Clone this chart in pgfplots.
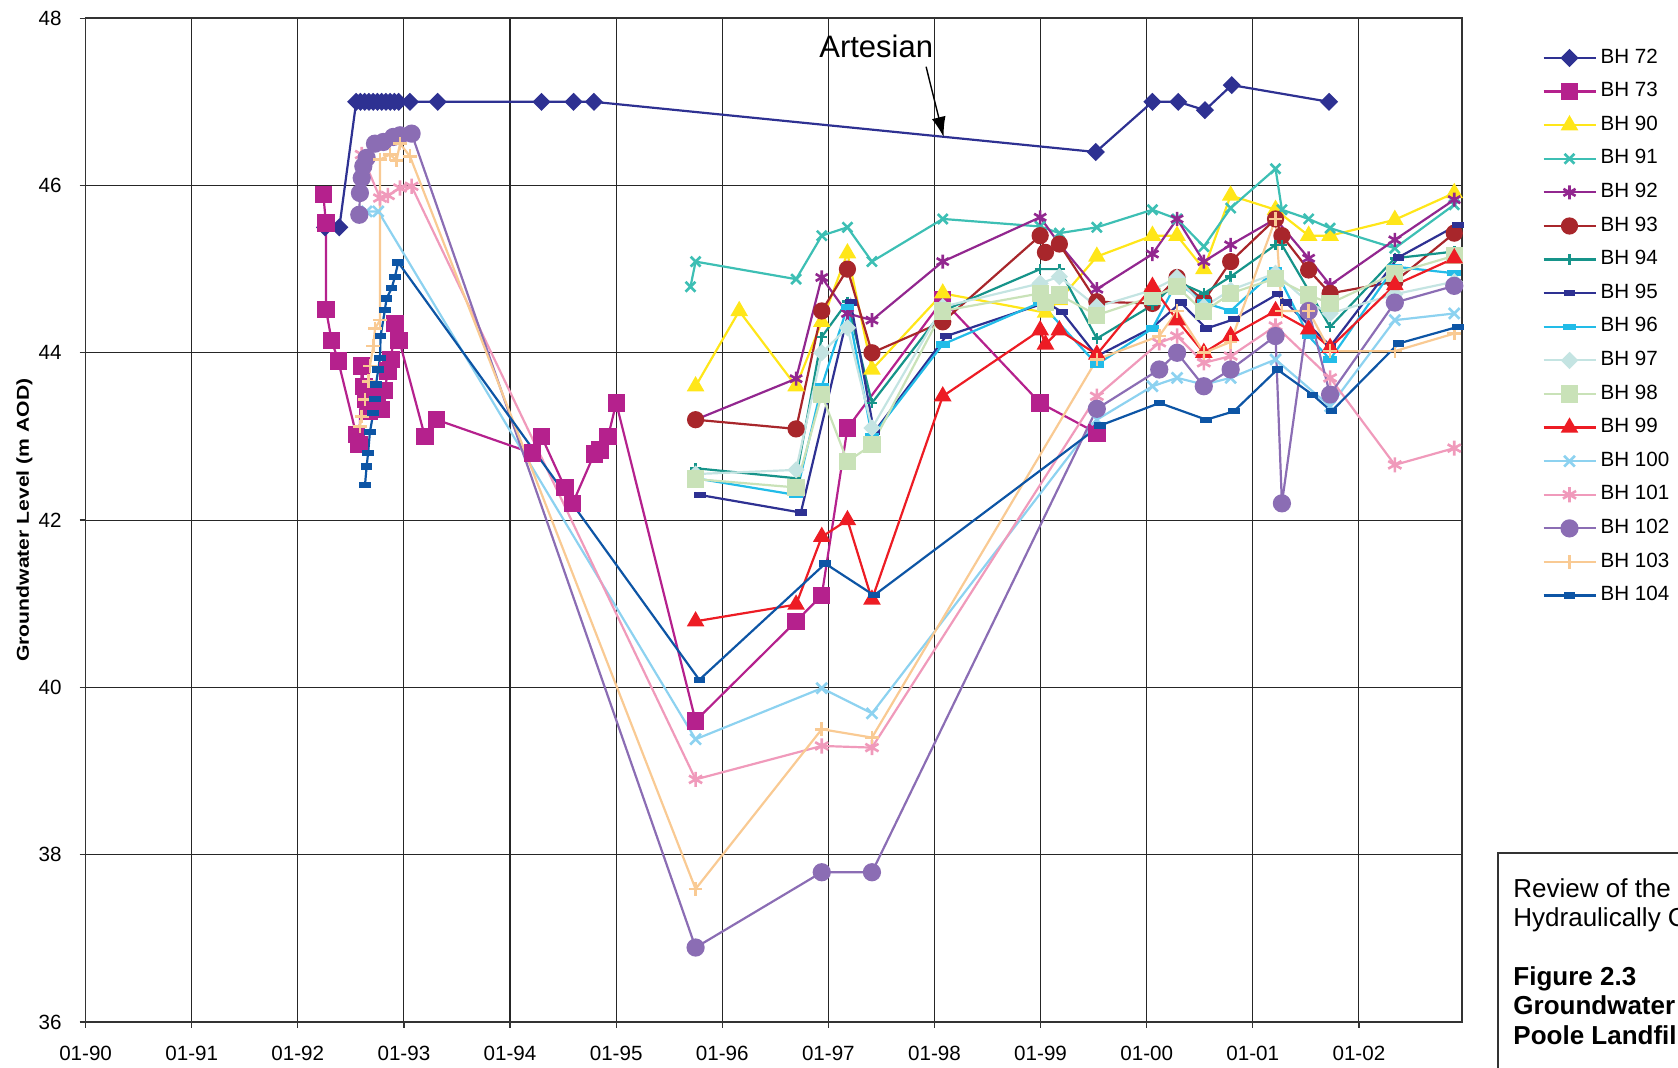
\documentclass[border=0pt]{standalone}
\usepackage{fontspec}
\setmainfont{Liberation Sans}
\usepackage{pgfplots}
\pgfplotsset{compat=1.18}
\usetikzlibrary{arrows.meta}

\definecolor{c72}{HTML}{2E3192}
\definecolor{c73}{HTML}{B5218D}
\definecolor{c90}{HTML}{FFE619}
\definecolor{c91}{HTML}{3DBFB4}
\definecolor{c92}{HTML}{92278F}
\definecolor{c93}{HTML}{A8262B}
\definecolor{c94}{HTML}{16948A}
\definecolor{c95}{HTML}{2E3192}
\definecolor{c96}{HTML}{22BCE8}
\definecolor{c97}{HTML}{C4E4E2}
\definecolor{c98}{HTML}{C9E2B8}
\definecolor{c99}{HTML}{ED1C24}
\definecolor{c100}{HTML}{8DD2F0}
\definecolor{c101}{HTML}{F09ABB}
\definecolor{c102}{HTML}{8B6DB4}
\definecolor{c103}{HTML}{F9CA93}
\definecolor{c104}{HTML}{0D55A5}

\begin{document}
\begin{tikzpicture}
\useasboundingbox (-42.8pt,-23pt) rectangle (796.2pt,511pt);
\begin{axis}[
  at={(0pt,0pt)}, anchor=south west,
  scale only axis, width=688.2pt, height=501.9pt,
  xmin=1990, xmax=2002.97, ymin=36, ymax=48,
  xtick={1990,...,2002},
  xticklabels={01-90,01-91,01-92,01-93,01-94,01-95,01-96,01-97,01-98,01-99,01-00,01-01,01-02},
  ytick={36,38,...,48},
  tick pos=left, tick align=outside, major tick length=3pt,
  tick style={black!80, line width=0.6pt},
  grid=major, major grid style={black!85, line width=0.55pt},
  axis line style={black!80, line width=0.8pt},
  /pgf/number format/assume math mode=true,
  ticklabel style={font=\fontsize{10.3}{12}\selectfont, inner sep=0pt},
  yticklabel style={anchor=east, xshift=-8.8pt},
  xticklabel style={anchor=north, yshift=-8.8pt},
  every axis y label/.style={at={(axis description cs:0,0.5)}, xshift=-30.6pt, rotate=90, anchor=center},
  ylabel={\fontsize{8.6}{10}\selectfont\scalebox{1.23}[1]{\bfseries Groundwater Level (m AOD)}},
  every axis plot/.append style={line width=1.1pt},
  stroke mark/.style={mark options={solid, line width=1.3pt}},
  legend image code/.code={\draw[mark repeat=2,mark phase=2,#1] plot coordinates {(0pt,0pt)(13pt,0pt)(26pt,0pt)};},
  legend cell align=left,
  legend style={at={(axis description cs:1,1)}, anchor=north west, xshift=40pt, yshift=-13.7pt,
    draw=none, fill=none, inner sep=0pt, row sep=4.8pt, column sep=1pt,
    font=\fontsize{10.3}{12}\selectfont,
    nodes={inner sep=1pt, text height=7.6pt, text depth=2.4pt}},
]

% BH 72
\addplot[color=c72, mark=square*, mark size=2.65pt, mark options={rotate=45, solid}] coordinates {
(1992.256,45.5)(1992.391,45.5)(1992.55,47)(1992.59,47)(1992.63,47)(1992.67,47)(1992.71,47)
(1992.75,47)(1992.79,47)(1992.83,47)(1992.87,47)(1992.91,47)(1992.95,47)(1993.056,47)
(1993.318,47)(1994.296,47)(1994.598,47)(1994.79,47)(1999.519,46.4)(2000.053,47)
(2000.296,47)(2000.548,46.9)(2000.80,47.2)(2001.717,47)};
\addlegendentry{BH 72}

% BH 73
\addplot[color=c73, mark=square*, mark size=3.8pt] coordinates {
(1992.240,45.89)(1992.265,45.55)(1992.265,44.52)(1992.318,44.15)(1992.381,43.9)
(1992.551,43.02)(1992.578,42.9)(1992.602,43.84)(1992.622,43.6)(1992.637,43.44)
(1992.672,43.3)(1992.713,43.55)(1992.753,43.48)(1992.788,43.32)(1992.818,43.55)
(1992.849,43.78)(1992.879,43.92)(1992.914,44.35)(1992.955,44.15)(1993.197,43.0)
(1993.307,43.2)(1994.209,42.8)(1994.296,43.0)(1994.516,42.39)(1994.59,42.2)
(1994.793,42.79)(1994.846,42.84)(1994.924,43.0)(1995.0,43.4)(1995.748,39.6)
(1996.695,40.79)(1996.937,41.1)(1997.179,43.1)(1998.077,44.63)(1998.995,43.4)(1999.529,43.04)};
\addlegendentry{BH 73}

% BH 90
\addplot[color=c90, mark=triangle*, mark size=4pt] coordinates {
(1995.748,43.6)(1996.159,44.5)(1996.695,43.6)(1996.937,44.37)(1997.179,45.19)(1997.41,43.8)
(1998.077,44.71)(1999.045,44.48)(1999.176,44.63)(1999.529,45.15)(2000.053,45.4)(2000.285,45.4)
(2000.537,45.0)(2000.79,45.88)(2001.213,45.71)(2001.525,45.4)(2001.727,45.4)(2002.337,45.59)(2002.897,45.91)};
\addlegendentry{BH 90}

% BH 91
\addplot[color=c91, mark=x, mark size=3.5pt, stroke mark] coordinates {
(1995.70,44.79)(1995.748,45.09)(1996.695,44.88)(1996.937,45.4)(1997.179,45.5)(1997.41,45.09)
(1998.077,45.6)(1998.995,45.51)(1999.176,45.43)(1999.529,45.5)(2000.053,45.71)(2000.285,45.6)
(2000.537,45.27)(2000.79,45.73)(2001.213,46.2)(2001.273,45.71)(2001.525,45.6)(2001.727,45.49)
(2002.337,45.25)(2002.897,45.77)};
\addlegendentry{BH 91}

% BH 92
\addplot[color=c92, mark=asterisk, mark size=3.5pt, stroke mark] coordinates {
(1995.748,43.2)(1996.695,43.69)(1996.937,44.9)(1997.179,44.47)(1997.41,44.39)(1998.077,45.09)
(1998.995,45.62)(1999.176,45.3)(1999.529,44.76)(2000.053,45.18)(2000.285,45.6)(2000.537,45.09)
(2000.79,45.29)(2001.213,45.6)(2001.525,45.13)(2001.727,44.81)(2002.337,45.35)(2002.897,45.83)};
\addlegendentry{BH 92}

% BH 93
\addplot[color=c93, mark=*, mark size=3.75pt] coordinates {
(1995.748,43.2)(1996.695,43.09)(1996.937,44.5)(1997.179,45.0)(1997.41,44.0)(1998.077,44.37)
(1998.995,45.4)(1999.045,45.2)(1999.176,45.3)(1999.529,44.61)(2000.053,44.59)(2000.285,44.9)
(2000.537,44.62)(2000.79,45.09)(2001.213,45.6)(2001.273,45.4)(2001.525,44.99)(2001.727,44.71)
(2002.337,44.85)(2002.897,45.43)};
\addlegendentry{BH 93}

% BH 94
\addplot[color=c94, mark=+, mark size=2.6pt, stroke mark] coordinates {
(1995.748,42.62)(1996.695,42.5)(1996.937,44.19)(1997.179,44.61)(1997.41,43.4)(1998.077,44.5)
(1998.995,45.0)(1999.176,45.0)(1999.529,44.17)(2000.053,44.57)(2000.285,44.85)(2000.537,44.71)
(2000.79,44.91)(2001.213,45.29)(2001.273,45.29)(2001.727,44.31)(2002.337,45.13)(2002.897,45.21)};
\addlegendentry{BH 94}

% BH 95
\addplot[color=c95, mark=square*, mark size=1pt, mark options={xscale=2.35}] coordinates {
(1995.79,42.3)(1996.74,42.09)(1997.21,44.6)(1997.43,43.05)(1998.11,44.2)(1999.05,44.6)
(1999.20,44.49)(1999.53,43.96)(2000.05,44.3)(2000.32,44.6)(2000.56,44.29)(2000.82,44.4)
(2001.23,44.7)(2001.31,44.6)(2001.73,44.08)(2002.37,45.14)(2002.93,45.53)};
\addlegendentry{BH 95}

% BH 96
\addplot[color=c96, mark=square*, mark size=1pt, mark options={xscale=2.9}] coordinates {
(1995.748,42.5)(1996.695,42.3)(1996.937,43.6)(1997.179,44.55)(1997.41,43.0)(1998.077,44.1)
(1998.995,44.6)(1999.529,43.86)(2000.053,44.29)(2000.285,44.85)(2000.537,44.6)(2000.79,44.5)
(2001.213,44.99)(2001.525,44.2)(2001.727,43.92)(2002.337,45.03)(2002.897,44.95)};
\addlegendentry{BH 96}

% BH 97
\addplot[color=c97, mark=square*, mark size=2.5pt, mark options={rotate=45}] coordinates {
(1995.748,42.55)(1996.695,42.6)(1996.937,44.0)(1997.179,44.3)(1997.41,43.1)(1998.077,44.55)
(1998.995,44.83)(1999.176,44.91)(1999.529,44.55)(2000.053,44.75)(2000.285,44.9)(2000.537,44.55)
(2000.79,44.75)(2001.213,44.95)(2001.525,44.6)(2001.727,44.47)(2002.337,44.7)(2002.897,44.85)};
\addlegendentry{BH 97}

% BH 98
\addplot[color=c98, mark=square*, mark size=3.75pt] coordinates {
(1995.748,42.49)(1996.695,42.39)(1996.937,43.5)(1997.179,42.7)(1997.41,42.9)(1998.077,44.5)
(1998.995,44.71)(1999.045,44.6)(1999.176,44.69)(1999.529,44.45)(2000.053,44.67)(2000.285,44.79)
(2000.537,44.49)(2000.79,44.71)(2001.213,44.89)(2001.525,44.69)(2001.727,44.59)(2002.337,44.95)(2002.897,45.16)};
\addlegendentry{BH 98}

% BH 99
\addplot[color=c99, mark=triangle*, mark size=4pt] coordinates {
(1995.748,40.79)(1996.695,40.99)(1996.937,41.8)(1997.179,42.0)(1997.41,41.05)(1998.077,43.48)
(1998.995,44.27)(1999.045,44.1)(1999.176,44.27)(1999.529,43.98)(2000.053,44.79)(2000.285,44.39)
(2000.537,44.0)(2000.79,44.2)(2001.213,44.5)(2001.525,44.28)(2001.727,44.06)(2002.337,44.81)(2002.897,45.13)};
\addlegendentry{BH 99}

% BH 100
\addplot[color=c100, mark=x, mark size=3.8pt, stroke mark] coordinates {
(1992.648,45.69)(1992.758,45.69)(1995.748,39.38)(1996.937,39.99)(1997.41,39.69)(1999.529,43.2)
(2000.053,43.6)(2000.285,43.7)(2000.537,43.62)(2000.79,43.7)(2001.213,43.92)(2001.727,43.36)
(2002.337,44.39)(2002.897,44.47)};
\addlegendentry{BH 100}

% BH 101
\addplot[color=c101, mark=asterisk, mark size=3.8pt, stroke mark] coordinates {
(1992.602,46.37)(1992.774,45.85)(1992.849,45.88)(1992.963,45.97)(1993.072,45.99)(1995.748,38.9)
(1996.937,39.3)(1997.41,39.28)(1999.529,43.48)(2000.117,44.12)(2000.285,44.2)(2000.537,43.88)
(2000.79,43.96)(2001.213,44.32)(2001.727,43.7)(2002.337,42.66)(2002.897,42.86)};
\addlegendentry{BH 101}

% BH 102
\addplot[color=c102, mark=*, mark size=4pt] coordinates {
(1992.579,45.65)(1992.585,45.91)(1992.602,46.09)(1992.617,46.23)(1992.648,46.33)(1992.727,46.5)
(1992.805,46.52)(1992.899,46.58)(1992.963,46.6)(1993.072,46.62)(1995.748,36.89)(1996.937,37.79)
(1997.41,37.79)(1999.529,43.33)(2000.117,43.8)(2000.285,44.0)(2000.537,43.6)(2000.79,43.8)
(2001.213,44.2)(2001.273,42.2)(2001.525,44.5)(2001.727,43.5)(2002.337,44.6)(2002.897,44.8)};
\addlegendentry{BH 102}

% BH 103
\addplot[color=c103, mark=+, mark size=3.4pt, stroke mark] coordinates {
(1992.585,43.12)(1992.602,43.24)(1992.633,43.44)(1992.664,43.66)(1992.679,43.84)(1992.711,44.08)
(1992.727,44.29)(1992.774,44.39)(1992.774,46.31)(1992.868,46.37)(1992.93,46.3)(1992.963,46.5)
(1993.056,46.35)(1995.748,37.59)(1996.937,39.5)(1997.41,39.4)(1999.529,43.92)(2000.117,44.2)
(2000.285,44.5)(2000.537,44.0)(2000.79,44.13)(2001.213,45.6)(2001.273,44.5)(2001.525,44.5)
(2001.727,44.02)(2002.337,44.02)(2002.897,44.23)};
\addlegendentry{BH 103}

% BH 104
\addplot[color=c104, mark=square*, mark size=1pt, mark options={xscale=2.35}] coordinates {
(1992.633,42.42)(1992.648,42.64)(1992.662,42.8)(1992.679,43.05)(1992.711,43.28)(1992.727,43.45)
(1992.736,43.62)(1992.758,43.8)(1992.774,43.94)(1992.78,44.2)(1992.82,44.51)(1992.836,44.65)
(1992.884,44.77)(1992.915,44.91)(1992.946,45.08)(1995.783,40.09)(1996.97,41.48)(1997.43,41.1)
(1999.56,43.13)(2000.12,43.4)(2000.56,43.2)(2000.82,43.3)(2001.23,43.8)(2001.56,43.5)
(2001.74,43.3)(2002.37,44.11)(2002.93,44.31)};
\addlegendentry{BH 104}

% annotation
\node[font=\fontsize{15.5}{18}\selectfont] at (axis cs:1997.45,47.66) {Artesian};
\draw[black, line width=0.7pt, -{Latex[length=10pt,width=7pt]}] (axis cs:1997.92,47.42) -- (axis cs:1998.085,46.58);
\end{axis}

% caption panel
\draw[black!80, line width=0.6pt] (706.2pt,-60pt) rectangle (1000pt,84.5pt);
\node[anchor=base west, inner sep=0pt, font=\fontsize{13}{14.7}\selectfont] at (713.7pt,62.3pt) {Review of the};
\node[anchor=base west, inner sep=0pt, font=\fontsize{13}{14.7}\selectfont] at (713.7pt,47.6pt) {Hydraulically Contained Landfill};
\node[anchor=base west, inner sep=0pt, font=\fontsize{13}{14.7}\selectfont\bfseries] at (713.7pt,18.2pt) {Figure 2.3};
\node[anchor=base west, inner sep=0pt, font=\fontsize{13}{14.7}\selectfont\bfseries] at (713.7pt,3.5pt) {Groundwater Levels};
\node[anchor=base west, inner sep=0pt, font=\fontsize{13}{14.7}\selectfont\bfseries] at (713.7pt,-11.2pt) {Poole Landfill};
\end{tikzpicture}
\end{document}
